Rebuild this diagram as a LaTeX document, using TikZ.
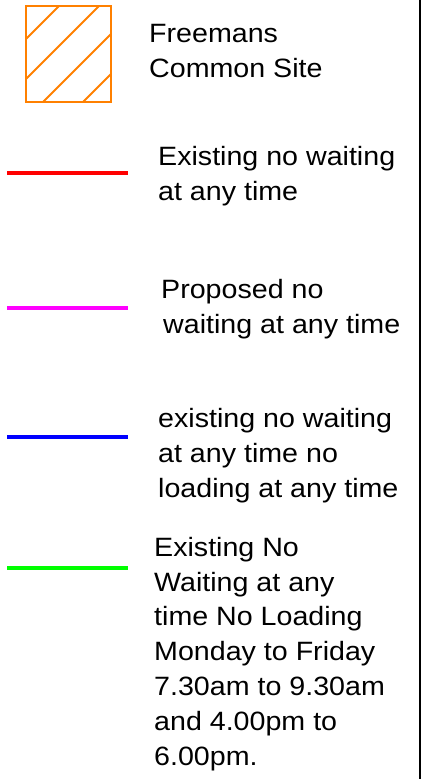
\documentclass[tikz,border=0pt]{standalone}
\usepackage{fontspec}
\setmainfont{Liberation Sans}[FakeStretch=1.08]
\usetikzlibrary{calc}

\begin{document}
\begin{tikzpicture}[x=1pt,y=-1pt,
  key/.style={line width=3.8pt},
  lbl/.style={anchor=base west,align=left,inner sep=0pt,font=\fontsize{26.5}{34.8}\selectfont}]
\useasboundingbox (0,0) rectangle (427,779);

\coordinate (site_nw) at (26,6);
\coordinate (site_se) at (111,102);
\coordinate (k_red) at (7,172.7);
\coordinate (k_pink) at (7,308);
\coordinate (k_blue) at (7,436.7);
\coordinate (k_green) at (7,567.7);
\coordinate (edge_t) at (420,0);
\coordinate (edge_b) at (420,779);

% hatched site box
\begin{scope}
\clip (site_nw) rectangle (site_se);
\foreach \c in {65,105,145,185}
  \draw [color={rgb,255:red,255;green,128;blue,0}, line width=2pt] (0,\c)--(\c,0);
\end{scope}
\draw [color={rgb,255:red,255;green,128;blue,0}, line width=2pt] (site_nw) rectangle (site_se);
% text anchors sit on the last line
\node[lbl] (t_site) at (149,77) {Freemans\\Common Site};

\draw [color=red, key] (k_red)--+(121,0);
\node[lbl] (t_red) at (158,200) {Existing no waiting\\at any time};

\draw [color={rgb,255:red,255;green,0;blue,255}, key] (k_pink)--+(121,0);
\node[lbl] (t_pink) at (161,333) {Proposed no\\\hspace{2pt}waiting at any time};

\draw [color=blue, key] (k_blue)--+(121,0);
\node[lbl] (t_blue) at (158,497) {existing no waiting\\at any time no\\loading at any time};

\draw [color={rgb,255:red,0;green,255;blue,0}, key] (k_green)--+(121,0);
\node[lbl] (t_green) at (154,765) {Existing No\\Waiting at any\\time No Loading\\Monday to Friday\\7.30am to 9.30am\\and 4.00pm to\\6.00pm.};

\draw [line width=1.3pt] (edge_t)--(edge_b);
\end{tikzpicture}
\end{document}
